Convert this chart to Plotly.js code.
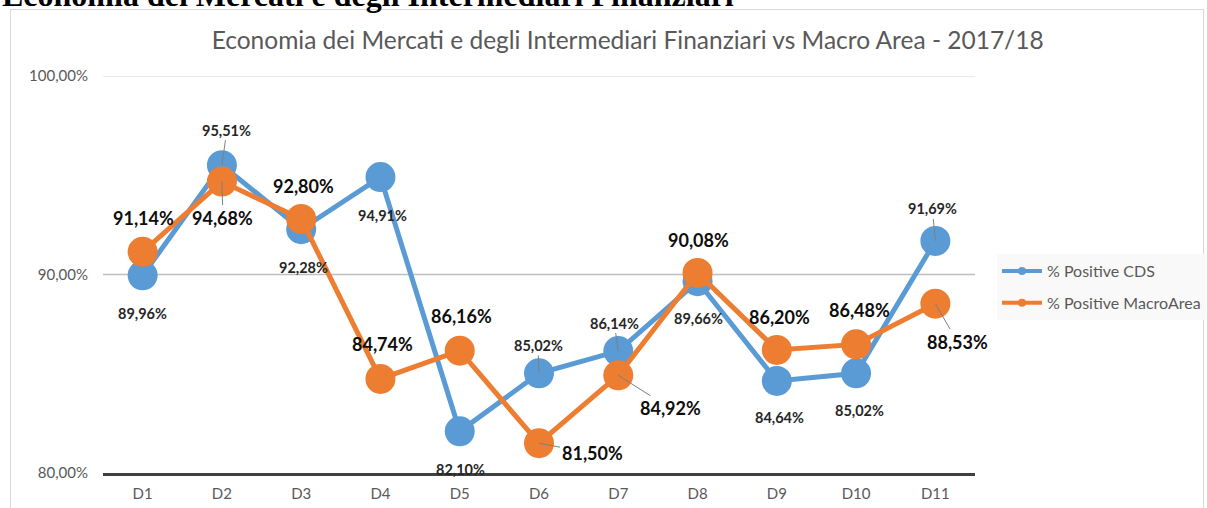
<!DOCTYPE html>
<html>
<head>
<meta charset="utf-8">
<script src="https://cdn.plot.ly/plotly-3.0.1.min.js"></script>
<style>
  html, body { margin: 0; padding: 0; background: #ffffff; overflow: hidden; }
  #frame { position: absolute; left: 10px; top: 9px; width: 1194px; height: 600px; border: 1px solid #d9d9d9; box-sizing: border-box; }
  #chart { position: absolute; left: 0; top: 0; width: 1207px; height: 508px; }
</style>
</head>
<body>
<div id="frame"></div>
<div id="chart"></div>
<script>
// ---- data ----
const categories = ['D1','D2','D3','D4','D5','D6','D7','D8','D9','D10','D11'];
const cdsValues = [89.96, 95.51, 92.28, 94.91, 82.10, 85.02, 86.14, 89.66, 84.64, 85.02, 91.69];
const macroValues = [91.14, 94.68, 92.80, 84.74, 86.16, 81.50, 84.92, 90.08, 86.20, 86.48, 88.53];
const seriesNames = ['% Positive CDS', '% Positive MacroArea'];
const yTickVals = [80, 90, 100];
const yTickText = ['80,00%', '90,00%', '100,00%'];
const chartTitle = 'Economia dei Mercati e degli Intermediari Finanziari vs Macro Area - 2017/18';
const pageHeading = 'Economia dei Mercati e degli Intermediari Finanziari';

// ---- styles / label offsets (pixels) ----
const BLUE = '#5b9bd5', ORANGE = '#ed7d31';
const FONT = 'Lato, "Open Sans", sans-serif';
const cdsOffsets = [[0,38],[5,-35],[2,38],[2,38],[1,38],[-1,-28],[-4,-28],[1,37],[3,37],[3,37],[-3,-32]];
const cdsLeader  = [false,true,false,false,false,true,true,false,false,false,true];
const macroOffsets = [[1,-34],[1,36],[2,-33],[2,-35],[2,-35],[53,10],[52,33],[1,-33],[3,-33],[3,-34],[22,38]];
const macroLeader  = [false,true,false,false,false,true,true,false,false,false,true];

const fmt = v => v.toFixed(2).replace('.', ',') + '%';

const traces = [
  { x: categories, y: cdsValues, type: 'scatter', mode: 'lines+markers', name: seriesNames[0],
    line: { color: BLUE, width: 5 }, marker: { color: BLUE, size: 30 }, showlegend: false, hoverinfo: 'skip' },
  { x: categories, y: macroValues, type: 'scatter', mode: 'lines+markers', name: seriesNames[1],
    line: { color: ORANGE, width: 5 }, marker: { color: ORANGE, size: 30 }, showlegend: false, hoverinfo: 'skip' },
  // legend entries
  { x: [null], y: [null], type: 'scatter', mode: 'lines+markers', name: seriesNames[0], legendgroup: 'a',
    line: { color: BLUE, width: 4 }, marker: { color: BLUE, size: 8 } },
  { x: [null], y: [null], type: 'scatter', mode: 'lines+markers', name: seriesNames[1], legendgroup: 'b',
    line: { color: ORANGE, width: 4 }, marker: { color: ORANGE, size: 8 } }
];

const annotations = [];
categories.forEach((c, i) => {
  annotations.push({
    x: c, y: cdsValues[i], xref: 'x', yref: 'y', text: fmt(cdsValues[i]),
    showarrow: true, ax: cdsOffsets[i][0], ay: cdsOffsets[i][1], axref: 'pixel', ayref: 'pixel',
    arrowhead: 0, arrowwidth: 1, standoff: 0,
    arrowcolor: cdsLeader[i] ? '#7f7f7f' : 'rgba(0,0,0,0)',
    font: { family: FONT, size: 14.5, color: '#262626', weight: 'bold' }
  });
  annotations.push({
    x: c, y: macroValues[i], xref: 'x', yref: 'y', text: fmt(macroValues[i]),
    showarrow: true, ax: macroOffsets[i][0], ay: macroOffsets[i][1], axref: 'pixel', ayref: 'pixel',
    arrowhead: 0, arrowwidth: 1, standoff: 0,
    arrowcolor: macroLeader[i] ? '#7f7f7f' : 'rgba(0,0,0,0)',
    font: { family: FONT, size: 18, color: '#0d0d0d', weight: 'bold' }
  });
});
// cropped page heading at the very top (cut off in the reference too)
annotations.push({
  xref: 'paper', yref: 'paper', x: -0.1181, y: 1.2045, xanchor: 'left', yanchor: 'middle',
  text: pageHeading, showarrow: false,
  font: { family: '"Liberation Serif", "DejaVu Serif", serif', size: 32, color: '#000000', weight: 'bold' }
});

const shapes = [
  { type: 'line', xref: 'paper', yref: 'y', x0: 0, x1: 1, y0: yTickVals[1], y1: yTickVals[1], line: { color: '#bfbfbf', width: 1.3 }, layer: 'below' },
  { type: 'line', xref: 'paper', yref: 'y', x0: 0, x1: 1, y0: yTickVals[2], y1: yTickVals[2], line: { color: '#e2e2e2', width: 1.3 }, layer: 'below' }
];

const layout = {
  width: 1207, height: 508,
  margin: { l: 103, r: 232, t: 76, b: 35, autoexpand: false },
  paper_bgcolor: 'rgba(0,0,0,0)', plot_bgcolor: 'rgba(0,0,0,0)',
  title: { text: chartTitle, x: 0.52, xanchor: 'center', y: 0.92, yanchor: 'middle',
           font: { family: FONT, size: 24.5, color: '#595959' } },
  xaxis: { type: 'category', range: [-0.5, 10.5], showgrid: false, zeroline: false,
           showline: true, linecolor: '#404040', linewidth: 3, ticks: '', automargin: false,
           tickfont: { family: FONT, size: 15, color: '#595959' }, ticklabelstandoff: 5, fixedrange: true },
  yaxis: { range: [80, 100], showgrid: false, zeroline: false, showline: false, automargin: false,
           tickvals: yTickVals, ticktext: yTickText, ticks: '',
           tickfont: { family: FONT, size: 15, color: '#595959' }, ticklabelstandoff: 14, fixedrange: true },
  showlegend: true,
  legend: { xref: 'container', yref: 'container', x: 0.826, y: 0.500, xanchor: 'left', yanchor: 'top', bgcolor: '#f9f9f9',
            font: { family: FONT, size: 16, color: '#595959' }, itemwidth: 40,
            traceorder: 'grouped', tracegroupgap: 8 },
  annotations: annotations,
  shapes: shapes
};

Plotly.newPlot('chart', traces, layout, { displayModeBar: false, staticPlot: true });
</script>
</body>
</html>
